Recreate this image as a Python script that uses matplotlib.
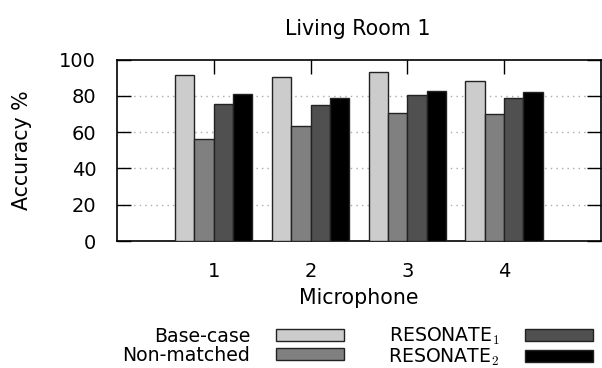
import numpy as np
import matplotlib.pyplot as plt
from matplotlib.patches import Patch

plt.rcParams['font.family'] = 'DejaVu Sans'
plt.rcParams['mathtext.fontset'] = 'cm'

# Accuracy per microphone, Living Room 1
microphones = [1, 2, 3, 4]
base_case = [91.5, 90.5, 93.0, 88.3]
non_matched = [56.5, 63.5, 70.8, 70.0]
resonate_1 = [75.4, 75.1, 80.4, 78.8]
resonate_2 = [80.9, 78.7, 82.9, 82.1]

series = [
    ('Base-case', base_case, '#cccccc'),
    ('Non-matched', non_matched, '#808080'),
    (r'RESONATE$_1$', resonate_1, '#505050'),
    (r'RESONATE$_2$', resonate_2, '#000000'),
]
BAR_W = 0.2
FS = 14.8


def plot_bars(ax):
    x = np.array(microphones, dtype=float)
    handles = []
    for i, (label, vals, color) in enumerate(series):
        offset = (i - 1.5) * BAR_W
        ax.bar(x + offset, vals, BAR_W, color=color, edgecolor='#222222',
               linewidth=1.0, zorder=3)
        handles.append(Patch(facecolor=color, edgecolor='#222222',
                             linewidth=1.0, label=label))
    return handles


def main():
    fig = plt.figure(figsize=(6.02, 3.68), dpi=100)
    ax = fig.add_axes([0.1944, 0.345, 0.8036, 0.493])
    handles = plot_bars(ax)

    ax.set_xlim(0, 5)
    ax.set_ylim(0, 100)
    ax.set_xticks(microphones)
    ax.set_yticks([0, 20, 40, 60, 80, 100])
    ax.tick_params(direction='in', length=10, width=1.0, labelsize=14,
                   top=True, right=True, pad=15)
    for y in [20, 40, 60, 80]:
        ax.axhline(y, color='#aaaaaa', linestyle=(0, (1, 3)), linewidth=1.0,
                   zorder=1)
    for s in ax.spines.values():
        s.set_linewidth(1.2)

    fig.text(0.595, 1 - 29 / 368, 'Living Room 1', fontsize=FS,
             ha='center', va='center')
    ax.set_xlabel('Microphone', fontsize=FS)
    ax.set_ylabel('Accuracy %', fontsize=FS)
    ax.xaxis.set_label_coords(0.5, -0.314)
    ax.yaxis.set_label_coords(-0.196, 0.5)
    ax.xaxis.label.set_va('center')
    ax.yaxis.label.set_va('center')

    fig.legend(handles=handles, ncol=2, loc='center',
               bbox_to_anchor=(0.594, 0.057), frameon=False, markerfirst=False,
               fontsize=13.6, handlelength=3.6, handleheight=0.6,
               labelspacing=0.0, columnspacing=2.35, handletextpad=1.35,
               borderpad=0)

    fig.savefig('out.png', dpi=100)


if __name__ == "__main__":
    main()
